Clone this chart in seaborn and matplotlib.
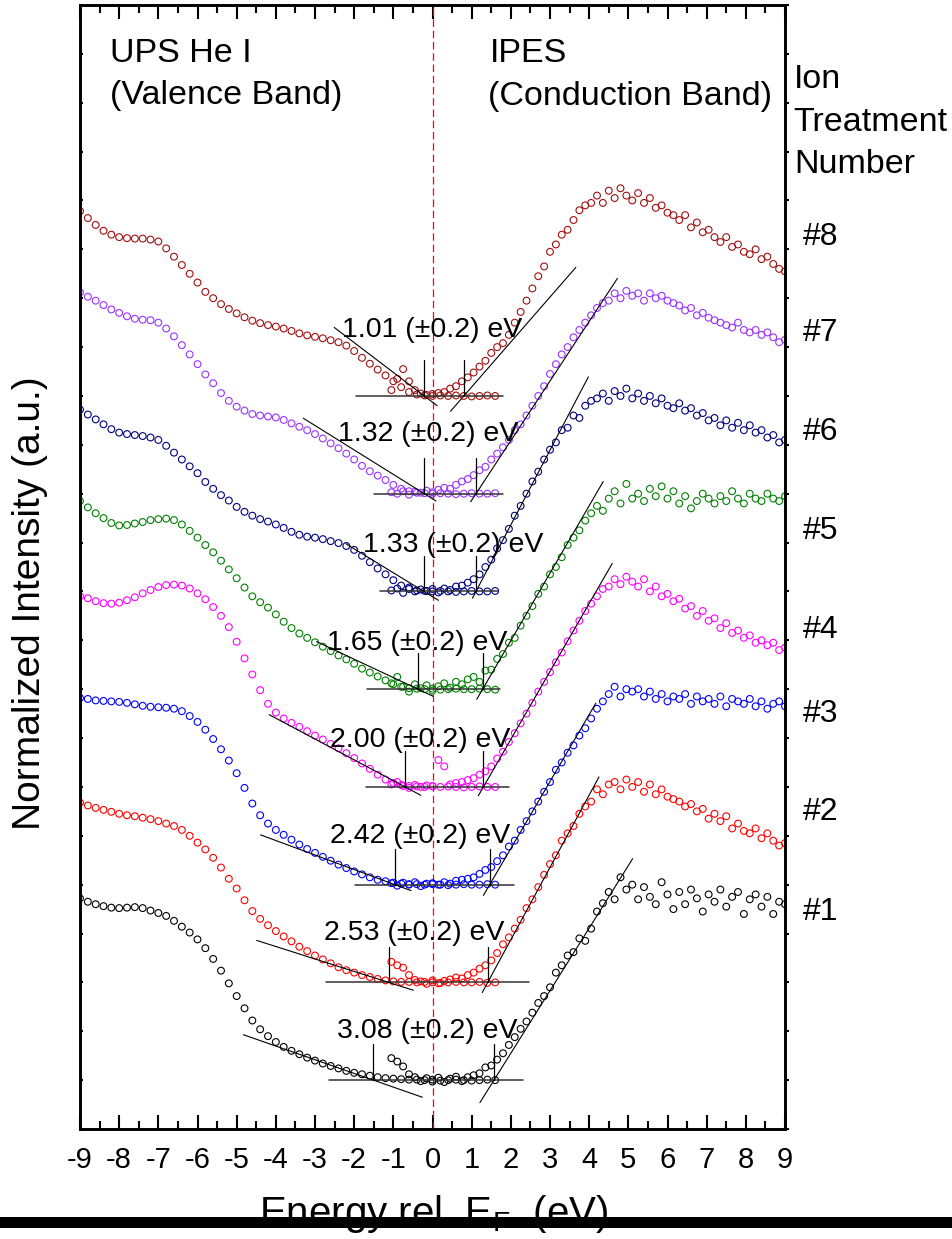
import numpy as np
import pandas as pd
import matplotlib
matplotlib.use("Agg")
import matplotlib.pyplot as plt
from matplotlib.patches import Rectangle
from matplotlib.ticker import MultipleLocator
import seaborn as sns

sns.set_theme(style="ticks")
plt.rcParams["font.family"] = ["Liberation Sans", "DejaVu Sans"]
plt.rcParams["mathtext.default"] = "regular"
plt.rcParams["axes.unicode_minus"] = False
plt.rcParams["text.color"] = "black"
plt.rcParams["axes.labelcolor"] = "black"
plt.rcParams["xtick.color"] = "black"
plt.rcParams["ytick.color"] = "black"

# ---------------------------------------------------------------- data
treatment_labels = ["#1", "#2", "#3", "#4", "#5", "#6", "#7", "#8"]
series_colors = ["#000000", "#FF0000", "#0000FF", "#FF00FF",
                 "#008000", "#000080", "#9933FF", "#A00F0F"]
band_gaps = [3.08, 2.53, 2.42, 2.00, 1.65, 1.33, 1.32, 1.01]
vbm_onsets = [-1.51, -1.12, -0.96, -0.70, -0.37, -0.22, -0.21, -0.21]

# energy grids (eV relative to E_F)
ups_energy = np.round(np.arange(-9.0, 1.61, 0.2), 2)      # 54 points
ipes_energy = np.round(np.arange(-1.05, 9.01, 0.15), 2)   # 68 points

# UPS He I valence band intensities (normalized)
ups_1 = [3.72, 3.65, 3.60, 3.56, 3.53, 3.52, 3.53, 3.54, 3.52, 3.47,
         3.42, 3.36, 3.26, 3.14, 3.02, 2.88, 2.70, 2.48, 2.24, 1.98,
         1.72, 1.47, 1.22, 1.04, 0.90, 0.78, 0.68, 0.60, 0.53, 0.46,
         0.40, 0.34, 0.29, 0.24, 0.19, 0.15, 0.12, 0.09, 0.06, 0.04,
         0.03, 0.02, 0.01, 0.01, 0.00, 0.01, -0.01, 0.00, 0.01, 0.00,
         -0.01, 0.00, 0.01, 0.00]
ups_2 = [3.68, 3.62, 3.57, 3.53, 3.49, 3.45, 3.42, 3.40, 3.37, 3.34,
         3.30, 3.25, 3.20, 3.12, 3.00, 2.86, 2.72, 2.55, 2.35, 2.12,
         1.92, 1.68, 1.46, 1.30, 1.17, 1.05, 0.94, 0.84, 0.73, 0.64,
         0.55, 0.47, 0.39, 0.31, 0.25, 0.20, 0.15, 0.11, 0.07, 0.04,
         0.02, 0.01, 0.01, 0.00, 0.01, 0.00, -0.01, 0.00, 0.01, 0.00,
         0.00, 0.01, -0.01, 0.00]
ups_3 = [3.82, 3.80, 3.77, 3.76, 3.75, 3.74, 3.72, 3.69, 3.66, 3.64,
         3.63, 3.62, 3.60, 3.55, 3.45, 3.33, 3.17, 2.98, 2.77, 2.54,
         2.28, 1.98, 1.66, 1.42, 1.25, 1.12, 1.02, 0.92, 0.82, 0.73,
         0.65, 0.57, 0.49, 0.41, 0.34, 0.27, 0.21, 0.15, 0.10, 0.07,
         0.04, 0.02, 0.01, 0.01, 0.00, 0.01, 0.00, -0.01, 0.00, 0.01,
         0.00, 0.00, 0.01, 0.00]
ups_4 = [3.90, 3.86, 3.80, 3.76, 3.75, 3.77, 3.82, 3.88, 3.96, 4.03,
         4.09, 4.13, 4.14, 4.12, 4.06, 3.96, 3.84, 3.68, 3.50, 3.27,
         2.97, 2.63, 2.30, 1.98, 1.70, 1.52, 1.40, 1.31, 1.23, 1.14,
         1.05, 0.97, 0.88, 0.79, 0.69, 0.59, 0.48, 0.37, 0.25, 0.15,
         0.08, 0.04, 0.02, 0.01, 0.00, 0.01, 0.00, 0.01, 0.00, -0.01,
         0.00, 0.01, 0.00, 0.00]
ups_5 = [3.85, 3.72, 3.60, 3.50, 3.40, 3.35, 3.36, 3.39, 3.42, 3.46,
         3.48, 3.49, 3.46, 3.37, 3.24, 3.10, 2.95, 2.80, 2.63, 2.45,
         2.27, 2.08, 1.90, 1.78, 1.67, 1.53, 1.38, 1.25, 1.14, 1.05,
         0.96, 0.87, 0.78, 0.69, 0.61, 0.52, 0.42, 0.34, 0.26, 0.18,
         0.10, 0.05, 0.02, 0.01, 0.00, 0.01, -0.01, 0.00, 0.01, 0.00,
         0.00, 0.01, 0.00, -0.01]
ups_6 = [3.72, 3.62, 3.52, 3.42, 3.32, 3.25, 3.22, 3.20, 3.18, 3.15,
         3.10, 2.98, 2.84, 2.70, 2.56, 2.42, 2.24, 2.10, 1.97, 1.86,
         1.73, 1.63, 1.55, 1.48, 1.43, 1.37, 1.30, 1.22, 1.16, 1.12,
         1.10, 1.07, 1.03, 0.99, 0.93, 0.85, 0.73, 0.60, 0.47, 0.35,
         0.23, 0.12, 0.05, 0.02, 0.01, 0.00, 0.01, 0.00, -0.01, 0.00,
         0.01, 0.00, 0.00, 0.01]
ups_7 = [4.12, 4.03, 3.95, 3.86, 3.77, 3.70, 3.63, 3.58, 3.56, 3.55,
         3.50, 3.38, 3.22, 3.04, 2.85, 2.65, 2.44, 2.26, 2.06, 1.90,
         1.78, 1.70, 1.63, 1.60, 1.58, 1.56, 1.51, 1.44, 1.37, 1.30,
         1.22, 1.13, 1.03, 0.93, 0.82, 0.70, 0.57, 0.46, 0.37, 0.28,
         0.18, 0.10, 0.05, 0.02, 0.01, 0.00, 0.01, 0.00, -0.01, 0.00,
         0.01, 0.00, 0.00, 0.01]
ups_8 = [3.78, 3.64, 3.50, 3.38, 3.30, 3.25, 3.23, 3.22, 3.22, 3.20,
         3.16, 3.02, 2.85, 2.68, 2.50, 2.32, 2.13, 2.00, 1.88, 1.78,
         1.69, 1.61, 1.54, 1.49, 1.45, 1.42, 1.38, 1.33, 1.28, 1.24,
         1.21, 1.18, 1.14, 1.10, 1.03, 0.92, 0.78, 0.66, 0.54, 0.42,
         0.30, 0.18, 0.08, 0.03, 0.01, 0.00, 0.01, 0.00, 0.01, 0.00,
         -0.01, 0.00, 0.01, 0.00]

# IPES conduction band intensities (normalized)
ipes_1 = [0.45, 0.38, 0.28, 0.12, 0.06, -0.02, 0.04,
          -0.03, 0.05, -0.04, 0.03, 0.07, -0.02, 0.06,
          0.10, 0.14, 0.26, 0.30, 0.42, 0.55, 0.72,
          0.88, 1.05, 1.20, 1.38, 1.58, 1.72, 1.90,
          2.20, 2.35, 2.55, 2.62, 2.90, 2.85, 3.10,
          3.45, 3.62, 3.85, 3.70, 4.15, 3.90, 4.00,
          3.70, 3.95, 3.75, 3.60, 4.05, 3.80, 3.50,
          3.85, 3.60, 3.90, 3.72, 3.45, 3.80, 3.65,
          3.90, 3.55, 3.75, 3.85, 3.40, 3.70, 3.80,
          3.55, 3.75, 3.40, 3.65, 3.60]
ipes_2 = [0.42, 0.35, 0.30, 0.15, 0.05, 0.02, -0.03,
          0.04, -0.02, 0.03, 0.06, 0.10, 0.08, 0.15,
          0.20, 0.28, 0.35, 0.45, 0.60, 0.78, 0.92,
          1.10, 1.28, 1.52, 1.70, 1.95, 2.20, 2.42,
          2.60, 2.90, 3.05, 3.20, 3.45, 3.60, 3.70,
          3.95, 3.85, 4.05, 4.10, 3.95, 4.15, 4.00,
          4.10, 3.90, 4.05, 3.85, 3.95, 3.80, 3.75,
          3.70, 3.60, 3.65, 3.50, 3.55, 3.35, 3.45,
          3.30, 3.40, 3.15, 3.25, 3.10, 3.05, 3.15,
          2.95, 3.05, 2.90, 2.80, 2.85]
ipes_3 = [0.03, -0.02, 0.04, 0.00, 0.05, -0.03, 0.02,
          0.03, 0.00, 0.05, 0.02, 0.08, 0.10, 0.12,
          0.15, 0.22, 0.30, 0.36, 0.48, 0.60, 0.78,
          0.90, 1.12, 1.30, 1.50, 1.70, 1.90, 2.10,
          2.35, 2.50, 2.70, 2.85, 3.05, 3.20, 3.40,
          3.60, 3.75, 3.90, 4.05, 3.85, 4.00, 3.95,
          4.00, 3.85, 3.95, 3.80, 3.90, 3.75, 3.85,
          3.80, 3.90, 3.70, 3.85, 3.75, 3.80, 3.70,
          3.85, 3.65, 3.80, 3.75, 3.70, 3.80, 3.65,
          3.75, 3.60, 3.70, 3.75, 3.65]
ipes_4 = [0.05, 0.10, 0.02, -0.02, 0.04, 0.00, 0.03,
          0.02, 0.55, 0.42, 0.05, 0.08, 0.10, 0.14,
          0.18, 0.25, 0.32, 0.42, 0.58, 0.72, 0.92,
          1.10, 1.30, 1.50, 1.72, 1.95, 2.15, 2.35,
          2.55, 2.75, 2.98, 3.20, 3.40, 3.60, 3.75,
          3.90, 4.05, 4.10, 4.25, 4.15, 4.30, 4.20,
          4.10, 4.25, 4.00, 4.10, 3.90, 3.95, 3.80,
          3.85, 3.65, 3.70, 3.50, 3.60, 3.40, 3.45,
          3.25, 3.35, 3.15, 3.20, 3.05, 3.10, 2.95,
          3.00, 2.90, 2.95, 2.80, 2.85]
ipes_5 = [0.12, 0.25, 0.05, -0.05, 0.10, 0.02, 0.08,
          -0.03, 0.06, 0.12, 0.03, 0.15, 0.10, 0.20,
          0.25, 0.15, 0.38, 0.40, 0.62, 0.72, 0.95,
          1.05, 1.30, 1.50, 1.70, 1.95, 2.10, 2.35,
          2.50, 2.70, 2.95, 3.10, 3.25, 3.45, 3.60,
          3.75, 3.65, 3.90, 4.05, 3.80, 4.20, 3.90,
          4.00, 3.85, 4.10, 3.95, 4.15, 3.90, 4.05,
          3.80, 3.95, 3.70, 3.85, 4.00, 3.90, 3.80,
          3.95, 3.85, 4.05, 3.90, 3.80, 4.00, 3.90,
          3.85, 4.00, 3.90, 3.85, 3.95]
ipes_6 = [0.02, 0.06, -0.03, 0.08, 0.00, 0.04, 0.01,
          0.05, -0.02, 0.06, 0.03, 0.10, 0.12, 0.18,
          0.25, 0.35, 0.50, 0.65, 0.88, 1.05, 1.28,
          1.55, 1.75, 2.00, 2.25, 2.45, 2.70, 2.90,
          3.05, 3.30, 3.35, 3.60, 3.55, 3.80, 3.90,
          3.95, 4.05, 3.90, 4.10, 4.00, 4.15, 3.95,
          4.05, 3.90, 4.00, 3.85, 3.95, 3.80, 3.75,
          3.85, 3.70, 3.75, 3.60, 3.65, 3.50, 3.55,
          3.40, 3.50, 3.35, 3.45, 3.30, 3.40, 3.25,
          3.30, 3.15, 3.20, 3.05, 3.10]
ipes_7 = [0.03, 0.00, 0.05, -0.02, 0.04, 0.02, 0.06,
          0.03, 0.08, 0.12, 0.10, 0.18, 0.25, 0.30,
          0.38, 0.48, 0.55, 0.70, 0.82, 0.95, 1.10,
          1.30, 1.42, 1.60, 1.80, 2.00, 2.20, 2.45,
          2.65, 2.85, 3.00, 3.20, 3.35, 3.50, 3.65,
          3.80, 3.90, 3.95, 4.10, 4.00, 4.15, 4.05,
          4.10, 3.95, 4.10, 4.00, 4.05, 3.95, 3.90,
          3.85, 3.75, 3.80, 3.65, 3.70, 3.60, 3.55,
          3.50, 3.45, 3.40, 3.50, 3.35, 3.30, 3.35,
          3.25, 3.30, 3.20, 3.10, 3.15]
ipes_8 = [0.12, 0.35, 0.55, 0.30, 0.12, 0.05, 0.02,
          0.04, 0.06, 0.08, 0.15, 0.20, 0.30, 0.38,
          0.48, 0.60, 0.72, 0.88, 1.00, 1.08, 1.25,
          1.50, 1.72, 1.95, 2.20, 2.45, 2.65, 2.95,
          3.10, 3.30, 3.40, 3.60, 3.80, 3.90, 3.95,
          4.10, 3.95, 4.20, 4.05, 4.25, 4.10, 4.00,
          4.15, 3.95, 4.05, 3.85, 3.90, 3.75, 3.70,
          3.60, 3.70, 3.45, 3.55, 3.35, 3.40, 3.25,
          3.15, 3.25, 3.05, 3.10, 2.95, 2.90, 3.00,
          2.80, 2.85, 2.70, 2.60, 2.55]

ups_series = [ups_1, ups_2, ups_3, ups_4, ups_5, ups_6, ups_7, ups_8]
ipes_series = [ipes_1, ipes_2, ipes_3, ipes_4, ipes_5, ipes_6, ipes_7, ipes_8]

# linear edge extrapolations (slope in a.u./eV, energy span in eV)
vb_slopes = [-0.28, -0.255, -0.297, -0.426, -0.376, -0.49, -0.50, -0.61]
vb_spans = [(-4.83, -0.26), (-4.49, -0.49), (-4.39, -0.55), (-4.17, -0.30),
            (-2.96, 0.02), (-2.21, 0.15), (-3.30, 0.09), (-2.51, 0.12)]
cb_slopes = [1.28, 1.48, 1.37, 1.39, 1.38, 1.53, 1.22, 0.92]
cb_spans = [(1.21, 5.11), (1.27, 4.25), (1.30, 4.17), (1.17, 4.59),
            (1.13, 4.36), (1.02, 3.98), (0.975, 4.72), (0.46, 3.66)]
base_spans = [(-2.64, 2.32), (-2.73, 2.46), (-1.98, 2.08), (-1.71, 1.95),
              (-1.68, 1.72), (-1.34, 1.68), (-1.49, 1.81), (-1.95, 1.81)]

# ---------------------------------------------------------------- layout
stack_offsets = [1, 3, 5, 7, 9, 11, 13, 15]
gap_label_x = [-0.14, -0.47, -0.32, -0.32, -0.40, 0.52, -0.12, 0.0]
gap_label_dy = [0.855, 0.87, 0.85, 0.82, 0.80, 0.81, 1.08, 1.20]
treatment_label_y = [4.44, 6.49, 8.49, 10.21, 12.24, 14.26, 16.29, 18.25]
onset_mark_height = 0.73

assert len(ups_energy) == 54 and len(ipes_energy) == 68
for a in ups_series:
    assert len(a) == 54
for a in ipes_series:
    assert len(a) == 68

fig = plt.figure(figsize=(9.52, 12.39), dpi=100)
ax = fig.add_axes([80 / 952, 1 - 1129 / 1239, 705 / 952, 1124 / 1239])
ax.set_xlim(-9, 9)
ax.set_ylim(0, 23)

ax.axvline(0, color="red", lw=0.9, ls=(0, (6, 3)), zorder=1)

marker_kw = dict(marker="o", s=24, linewidth=0.8, facecolor="none", legend=False)
for i in range(8):
    c = series_colors[i]
    off = stack_offsets[i]
    df_ups = pd.DataFrame({"energy": ups_energy, "intensity": np.array(ups_series[i]) + off})
    df_ipes = pd.DataFrame({"energy": ipes_energy, "intensity": np.array(ipes_series[i]) + off})
    sns.scatterplot(data=df_ups, x="energy", y="intensity", ax=ax, color=c,
                    edgecolor=c, zorder=2, **marker_kw)
    sns.scatterplot(data=df_ipes, x="energy", y="intensity", ax=ax, color=c,
                    edgecolor=c, zorder=2, **marker_kw)

    vbm = vbm_onsets[i]
    cbm = vbm + band_gaps[i]
    # baseline
    ax.plot(base_spans[i], [off, off], color="#333333", lw=1.1, zorder=3)
    # valence-band edge
    xv = np.array(vb_spans[i])
    ax.plot(xv, off + vb_slopes[i] * (xv - vbm), color="black", lw=0.8, zorder=3)
    # conduction-band edge
    xc = np.array(cb_spans[i])
    ax.plot(xc, off + cb_slopes[i] * (xc - cbm), color="black", lw=0.8, zorder=3)
    # onset markers
    for e in (vbm, cbm):
        ax.plot([e, e], [off, off + onset_mark_height], color="black", lw=0.9, zorder=3)
    ax.text(gap_label_x[i], off + gap_label_dy[i], f"{band_gaps[i]:.2f} (\u00b10.2) eV",
            ha="center", va="baseline", fontsize=20.5, zorder=4)
    ax.text(9.46, treatment_label_y[i], treatment_labels[i], ha="left", va="center",
            fontsize=23, clip_on=False)

big = 24.5
ax.text(-8.23, 21.83, "UPS He I", fontsize=big, va="baseline", ha="left")
ax.text(-8.23, 20.97, "(Valence Band)", fontsize=big, va="baseline", ha="left")
ax.text(1.47, 21.83, "IPES", fontsize=big, va="baseline", ha="left")
ax.text(1.42, 20.95, "(Conduction Band)", fontsize=big, va="baseline", ha="left")
ax.text(9.23, 21.30, "Ion", fontsize=big, va="baseline", ha="left", clip_on=False)
ax.text(9.20, 20.42, "Treatment", fontsize=big, va="baseline", ha="left", clip_on=False)
ax.text(9.23, 19.56, "Number", fontsize=big, va="baseline", ha="left", clip_on=False)

# ticks
ax.set_xticks(range(-9, 10))
ax.xaxis.set_minor_locator(MultipleLocator(0.5))
ax.tick_params(axis="x", which="both", direction="in", top=True, bottom=True,
               width=1.5, labelsize=21, pad=12, colors="black")
ax.tick_params(axis="x", which="major", length=10)
ax.tick_params(axis="x", which="minor", length=5.5)
ax.set_yticks(range(0, 24))
ax.tick_params(axis="y", which="both", direction="in", left=True, right=False,
               length=2.5, width=1.5, labelleft=False)
ax.set_xlabel("")
ax.set_ylabel("")

twin = ax.twinx()
twin.set_ylim(0, 23)
twin.set_yticks(range(0, 24))
twin.tick_params(axis="y", direction="out", length=3, width=1.5, labelright=False)
twin.patch.set_visible(False)

for a in (ax, twin):
    for sp in a.spines.values():
        sp.set_linewidth(1.9)
        sp.set_color("black")

fig.text(30 / 952, 1 - 603 / 1239, "Normalized Intensity (a.u.)", rotation=90,
         ha="center", va="center", fontsize=28)
fig.text(434 / 952, 1 - 1225 / 1239, "Energy rel. E$_{F}$  (eV)",
         ha="center", va="baseline", fontsize=29)

fig.add_artist(Rectangle((0, 1 - 1228 / 1239), 1, 11 / 1239, transform=fig.transFigure,
                         facecolor="black", edgecolor="none", zorder=10))

fig.savefig("out.png", dpi=100)
